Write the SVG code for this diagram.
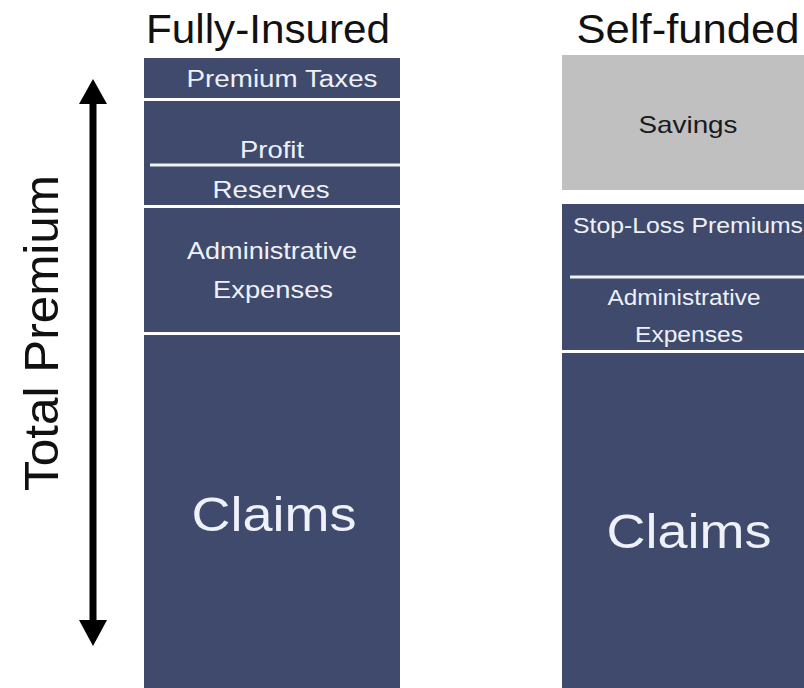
<svg xmlns="http://www.w3.org/2000/svg" width="804" height="688" viewBox="0 0 804 688">
<style>
text{font-family:"Liberation Sans",Arial,sans-serif}
.blk{fill:#3f4a6d}
.sep{stroke:#eef1f7;stroke-width:3}
.w{fill:#eef1f8;text-anchor:middle}
.h{fill:#111;font-size:40px;text-anchor:middle}
</style>
<rect width="804" height="688" fill="#fff"/>
<g id="title-fully"><text class="h" x="268" y="43" textLength="244" lengthAdjust="spacingAndGlyphs">Fully-Insured</text></g>
<g id="title-self"><text class="h" x="688" y="43" textLength="223" lengthAdjust="spacingAndGlyphs">Self-funded</text></g>
<g id="total-premium"><text x="0" y="0" transform="translate(58,333) rotate(-90)" fill="#111" font-size="49" text-anchor="middle" textLength="316" lengthAdjust="spacingAndGlyphs">Total Premium</text></g>
<g id="connectors">
<line x1="93" y1="100" x2="93" y2="624" stroke="#000" stroke-width="7"/>
<polygon points="93,79 79,104 107,104" fill="#000"/>
<polygon points="93,646 79,620 107,620" fill="#000"/>
</g>
<g id="premium-taxes"><rect class="blk" x="144" y="58" width="256" height="40"/><text class="w" x="282" y="87" font-size="23" textLength="191" lengthAdjust="spacingAndGlyphs">Premium  Taxes</text></g>
<g id="profit-reserves"><rect class="blk" x="144" y="101" width="256" height="104"/><line class="sep" x1="150" y1="165" x2="400" y2="165"/>
<text class="w" x="272" y="158" font-size="24" textLength="64" lengthAdjust="spacingAndGlyphs">Profit</text>
<text class="w" x="271" y="198" font-size="24" textLength="117" lengthAdjust="spacingAndGlyphs">Reserves</text></g>
<g id="admin-left"><rect class="blk" x="144" y="208" width="256" height="124"/>
<text class="w" x="272" y="259" font-size="24" textLength="170" lengthAdjust="spacingAndGlyphs">Administrative</text>
<text class="w" x="273" y="298" font-size="24" textLength="120" lengthAdjust="spacingAndGlyphs">Expenses</text></g>
<g id="claims-left"><rect class="blk" x="144" y="335" width="256" height="353"/><text class="w" x="274" y="531" font-size="49" textLength="165" lengthAdjust="spacingAndGlyphs">Claims</text></g>
<g id="savings"><rect x="562" y="55" width="242" height="135" fill="#c0c0c0"/><text x="688" y="133" font-size="24" fill="#1a1a1a" text-anchor="middle" textLength="99" lengthAdjust="spacingAndGlyphs">Savings</text></g>
<g id="stoploss-admin"><rect class="blk" x="562" y="204" width="242" height="146"/><line class="sep" x1="570" y1="277" x2="804" y2="277"/>
<text class="w" x="688" y="233" font-size="22" textLength="230" lengthAdjust="spacingAndGlyphs">Stop-Loss Premiums</text>
<text class="w" x="684" y="305" font-size="22" textLength="153" lengthAdjust="spacingAndGlyphs">Administrative</text>
<text class="w" x="689" y="342" font-size="22" textLength="108" lengthAdjust="spacingAndGlyphs">Expenses</text></g>
<g id="claims-right"><rect class="blk" x="562" y="353" width="242" height="335"/><text class="w" x="689" y="548" font-size="49" textLength="165" lengthAdjust="spacingAndGlyphs">Claims</text></g>
</svg>
